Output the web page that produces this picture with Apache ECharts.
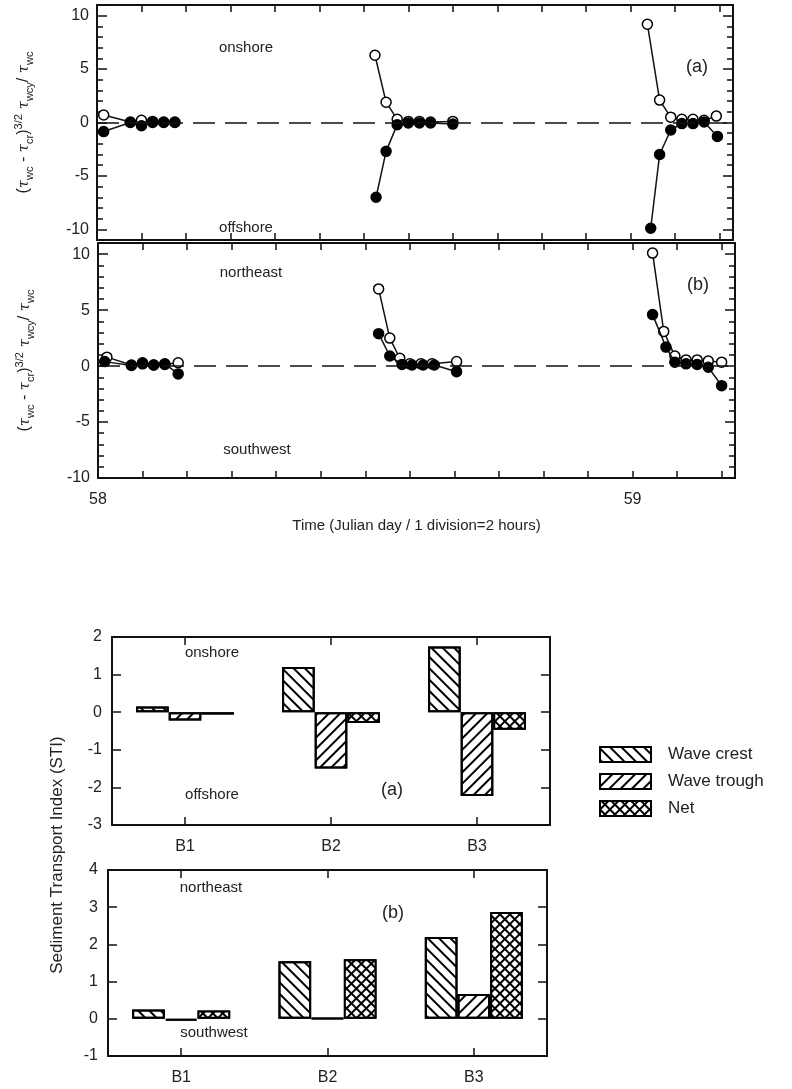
<!DOCTYPE html>
<html>
<head>
<meta charset="utf-8">
<script src="https://cdn.jsdelivr.net/npm/echarts@6/dist/echarts.min.js"></script>
<style>
html, body { margin: 0; padding: 0; background: #fff; }
#Chart { width: 792px; height: 1089px; }
</style>
</head>
<body>
<div id="Chart"></div>
<script>
// time in hours after the start of Julian day 58
var dayLabels = { 0: '58', 24: '59' };

// (a) cross-shore, open = wave crest, filled = wave trough
var crossOpen1 = [[0.3, 0.7], [1.5, 0.05], [2.0, 0.2], [2.5, 0.1], [3.0, 0.05], [3.5, 0.05]];
var crossFill1 = [[0.3, -0.85], [1.5, 0.0], [2.0, -0.3], [2.5, 0.0], [3.0, 0.0], [3.5, 0.0]];
var crossOpen2 = [[12.5, 6.3], [13.0, 1.9], [13.5, 0.3], [14.0, 0.1], [14.5, 0.1], [15.0, 0.05], [16.0, 0.1]];
var crossFill2 = [[12.55, -7.0], [13.0, -2.7], [13.5, -0.2], [14.0, -0.05], [14.5, -0.05], [15.0, -0.05], [16.0, -0.15]];
var crossOpen3 = [[24.75, 9.2], [25.3, 2.1], [25.8, 0.5], [26.3, 0.3], [26.8, 0.3], [27.3, 0.2], [27.85, 0.6]];
var crossFill3 = [[24.9, -9.9], [25.3, -3.0], [25.8, -0.7], [26.3, -0.1], [26.8, -0.1], [27.3, 0.05], [27.9, -1.3]];

// (b) alongshore
var alongOpen1 = [[0.4, 0.8], [1.5, 0.1], [2.0, 0.2], [2.5, 0.1], [3.0, 0.15], [3.6, 0.3]];
var alongFill1 = [[0.3, 0.4], [1.5, 0.05], [2.0, 0.3], [2.5, 0.1], [3.0, 0.2], [3.6, -0.7]];
var alongOpen2 = [[12.6, 6.9], [13.1, 2.5], [13.55, 0.7], [14.0, 0.2], [14.5, 0.2], [15.0, 0.2], [16.1, 0.4]];
var alongFill2 = [[12.6, 2.9], [13.1, 0.9], [13.65, 0.15], [14.1, 0.1], [14.6, 0.1], [15.1, 0.1], [16.1, -0.5]];
var alongOpen3 = [[24.9, 10.1], [25.4, 3.1], [25.9, 0.9], [26.4, 0.55], [26.9, 0.55], [27.4, 0.45], [28.0, 0.35]];
var alongFill3 = [[24.9, 4.6], [25.5, 1.7], [25.9, 0.35], [26.4, 0.2], [26.9, 0.15], [27.4, -0.1], [28.0, -1.75]];

// sediment transport index per station
var stations = ['B1', 'B2', 'B3'];
var crossCrest = [0.15, 1.2, 1.75];
var crossTrough = [-0.22, -1.5, -2.23];
var crossNet = [-0.06, -0.29, -0.47];
var alongCrest = [0.25, 1.55, 2.2];
var alongTrough = [-0.05, 0.02, 0.67];
var alongNet = [0.22, 1.6, 2.87];

var FONT = 'Liberation Sans';
var INK = '#111';
var MyChart;

// x axis of the time panels (hours)
function TimeAxis(grid, pos, showLabel, name) {
    return {
        type: 'value', gridIndex: grid, position: pos,
        min: 0, max: 28.6, interval: 2,
        name: name || '', nameLocation: 'middle', nameGap: 40,
        nameTextStyle: { fontFamily: FONT, fontSize: 15, color: '#222' },
        axisLine: { show: true, onZero: false, lineStyle: { color: INK, width: 2 } },
        axisTick: { show: true, inside: true, length: 7, lineStyle: { color: INK, width: 1.5 } },
        axisLabel: {
            show: showLabel, margin: 14, fontFamily: FONT, fontSize: 16, color: '#222',
            formatter: function (v) { return dayLabels[v] || ''; }
        },
        splitLine: { show: false }
    };
}

// y axis of the time panels
function StressAxis(grid, pos, lo, hi, showLabel) {
    return {
        type: 'value', gridIndex: grid, position: pos, min: lo, max: hi, splitNumber: 4,
        name: showLabel ? '{p|(}{t|τ}{s|wc}{p| - }{t|τ}{s|cr}{p|)}{u|3/2}{t| τ}{s|wcy}{p|/ }{t|τ}{s|wc}' : '',
        nameLocation: 'middle', nameRotate: 90, nameGap: 62,
        nameTextStyle: {
            rich: {
                p: { fontFamily: FONT, fontSize: 16, color: '#222', lineHeight: 22 },
                t: { fontFamily: 'DejaVu Serif', fontStyle: 'italic', fontSize: 15, color: '#222', lineHeight: 22 },
                s: { fontFamily: FONT, fontSize: 11, color: '#222', lineHeight: 12, verticalAlign: 'bottom' },
                u: { fontFamily: FONT, fontSize: 11, color: '#222', lineHeight: 12, verticalAlign: 'top' }
            }
        },
        axisLine: { show: true, onZero: false, lineStyle: { color: INK, width: 2 } },
        axisTick: { show: true, inside: true, length: 10, lineStyle: { color: INK, width: 1.5 } },
        minorTick: { show: true, splitNumber: 5, length: 6, lineStyle: { color: INK, width: 1.5 } },
        axisLabel: {
            show: showLabel, margin: 8, fontFamily: FONT, fontSize: 16, color: '#222',
            showMinLabel: lo % 5 === 0, showMaxLabel: hi % 5 === 0,
            formatter: function (v) { return v % 5 === 0 ? String(v) : ''; }
        },
        splitLine: { show: false }
    };
}

function StationAxis(grid, pos, showLabel) {
    return {
        type: 'category', gridIndex: grid, position: pos, data: stations, boundaryGap: true,
        axisLine: { show: true, onZero: false, lineStyle: { color: INK, width: 2 } },
        axisTick: { show: true, inside: true, alignWithLabel: true, length: 8, lineStyle: { color: INK, width: 1.5 } },
        axisLabel: { show: showLabel, margin: 14, fontFamily: FONT, fontSize: 16, color: '#222' }
    };
}

function IndexAxis(grid, pos, lo, hi, showLabel) {
    return {
        type: 'value', gridIndex: grid, position: pos, min: lo, max: hi, interval: 1,
        axisLine: { show: true, onZero: false, lineStyle: { color: INK, width: 2 } },
        axisTick: { show: true, inside: true, length: 9, lineStyle: { color: INK, width: 1.5 } },
        axisLabel: { show: showLabel, margin: 10, fontFamily: FONT, fontSize: 16, color: '#222' },
        splitLine: { show: false }
    };
}

// one cluster of circles joined by a line
function Burst(xi, yi, data, filled) {
    return {
        type: 'line', xAxisIndex: xi, yAxisIndex: yi, data: data,
        symbol: 'circle', symbolSize: 10, z: filled ? 4 : 3,
        lineStyle: { color: INK, width: 1.5 },
        itemStyle: { color: filled ? '#000' : '#fff', borderColor: '#000', borderWidth: 1.5 },
        animation: false
    };
}

// dashed zero line
function ZeroLine(xi, yi) {
    return {
        type: 'line', xAxisIndex: xi, yAxisIndex: yi, data: [], z: 2,
        markLine: {
            silent: true, symbol: 'none', label: { show: false },
            lineStyle: { color: INK, width: 1.6, type: [22, 10] },
            data: [{ yAxis: 0 }]
        }
    };
}

var crestDecal = { symbol: 'rect', symbolSize: 1, dashArrayX: [1, 0], dashArrayY: [2, 6], rotation: Math.PI / 4, color: '#000' };
var troughDecal = { symbol: 'rect', symbolSize: 1, dashArrayX: [1, 0], dashArrayY: [2, 6], rotation: -Math.PI / 4, color: '#000' };
var netDecal = { symbol: 'rect', symbolSize: 1, dashArrayX: [5, 2], dashArrayY: [5, 2], rotation: Math.PI / 4, color: '#fff' };

function Bars(name, xi, yi, data, decal, fill) {
    return {
        type: 'bar', name: name, xAxisIndex: xi, yAxisIndex: yi, data: data,
        barGap: '0%', barCategoryGap: '33%',
        itemStyle: { color: fill, borderColor: '#000', borderWidth: 2, decal: decal },
        animation: false
    };
}

function Note(text, x, y, size) {
    return {
        type: 'text', x: x, y: y,
        style: { text: text, fontFamily: FONT, fontSize: size || 15, fill: '#222', textAlign: 'center', textVerticalAlign: 'middle' }
    };
}

function DrawChart() {
    var dom = document.getElementById('Chart');
    if (MyChart == null) {
        MyChart = echarts.init(dom, null, { renderer: 'canvas' });
    }
    var option = {
        backgroundColor: '#fff',
        animation: false,
        grid: [
            { left: 97, top: 5, width: 636, height: 235, outerBoundsMode: 'none' },
            { left: 98, top: 243, width: 637, height: 235, outerBoundsMode: 'none' },
            { left: 112, top: 637, width: 438, height: 188, outerBoundsMode: 'none' },
            { left: 108, top: 870, width: 439, height: 186, outerBoundsMode: 'none' }
        ],
        xAxis: [
            TimeAxis(0, 'bottom', false), TimeAxis(0, 'top', false),
            TimeAxis(1, 'bottom', true, 'Time (Julian day / 1 division=2 hours)'), TimeAxis(1, 'top', false),
            StationAxis(2, 'bottom', true), StationAxis(2, 'top', false),
            StationAxis(3, 'bottom', true), StationAxis(3, 'top', false)
        ],
        yAxis: [
            StressAxis(0, 'left', -11, 11, true), StressAxis(0, 'right', -11, 11, false),
            StressAxis(1, 'left', -10, 11, true), StressAxis(1, 'right', -10, 11, false),
            IndexAxis(2, 'left', -3, 2, true), IndexAxis(2, 'right', -3, 2, false),
            IndexAxis(3, 'left', -1, 4, true), IndexAxis(3, 'right', -1, 4, false)
        ],
        legend: {
            data: ['Wave crest', 'Wave trough', 'Net'],
            orient: 'vertical', left: 594, top: 741, icon: 'rect',
            itemWidth: 51, itemHeight: 15, itemGap: 10,
            textStyle: { fontFamily: FONT, fontSize: 17, color: '#222', padding: [0, 0, 0, 12] }
        },
        graphic: [
            Note('onshore', 246, 48), Note('offshore', 246, 228), Note('(a)', 697, 67, 18),
            Note('northeast', 251, 273), Note('southwest', 257, 450), Note('(b)', 698, 285, 18),
            Note('onshore', 212, 653), Note('offshore', 212, 795), Note('(a)', 392, 790, 18),
            Note('northeast', 211, 888), Note('southwest', 214, 1033), Note('(b)', 393, 913, 18),
            {
                type: 'text', x: 57, y: 855, rotation: Math.PI / 2,
                style: { text: 'Sediment Transport Index (STI)', fontFamily: FONT, fontSize: 17, fill: '#222', textAlign: 'center', textVerticalAlign: 'middle' }
            }
        ],
        series: [
            ZeroLine(0, 0), ZeroLine(2, 2),
            Burst(0, 0, crossOpen1, false), Burst(0, 0, crossOpen2, false), Burst(0, 0, crossOpen3, false),
            Burst(0, 0, crossFill1, true), Burst(0, 0, crossFill2, true), Burst(0, 0, crossFill3, true),
            Burst(2, 2, alongOpen1, false), Burst(2, 2, alongOpen2, false), Burst(2, 2, alongOpen3, false),
            Burst(2, 2, alongFill1, true), Burst(2, 2, alongFill2, true), Burst(2, 2, alongFill3, true),
            Bars('Wave crest', 4, 4, crossCrest, crestDecal, '#fff'),
            Bars('Wave trough', 4, 4, crossTrough, troughDecal, '#fff'),
            Bars('Net', 4, 4, crossNet, netDecal, '#000'),
            Bars('Wave crest', 6, 6, alongCrest, crestDecal, '#fff'),
            Bars('Wave trough', 6, 6, alongTrough, troughDecal, '#fff'),
            Bars('Net', 6, 6, alongNet, netDecal, '#000')
        ]
    };
    MyChart.setOption(option);
}

DrawChart();
</script>
</body>
</html>
